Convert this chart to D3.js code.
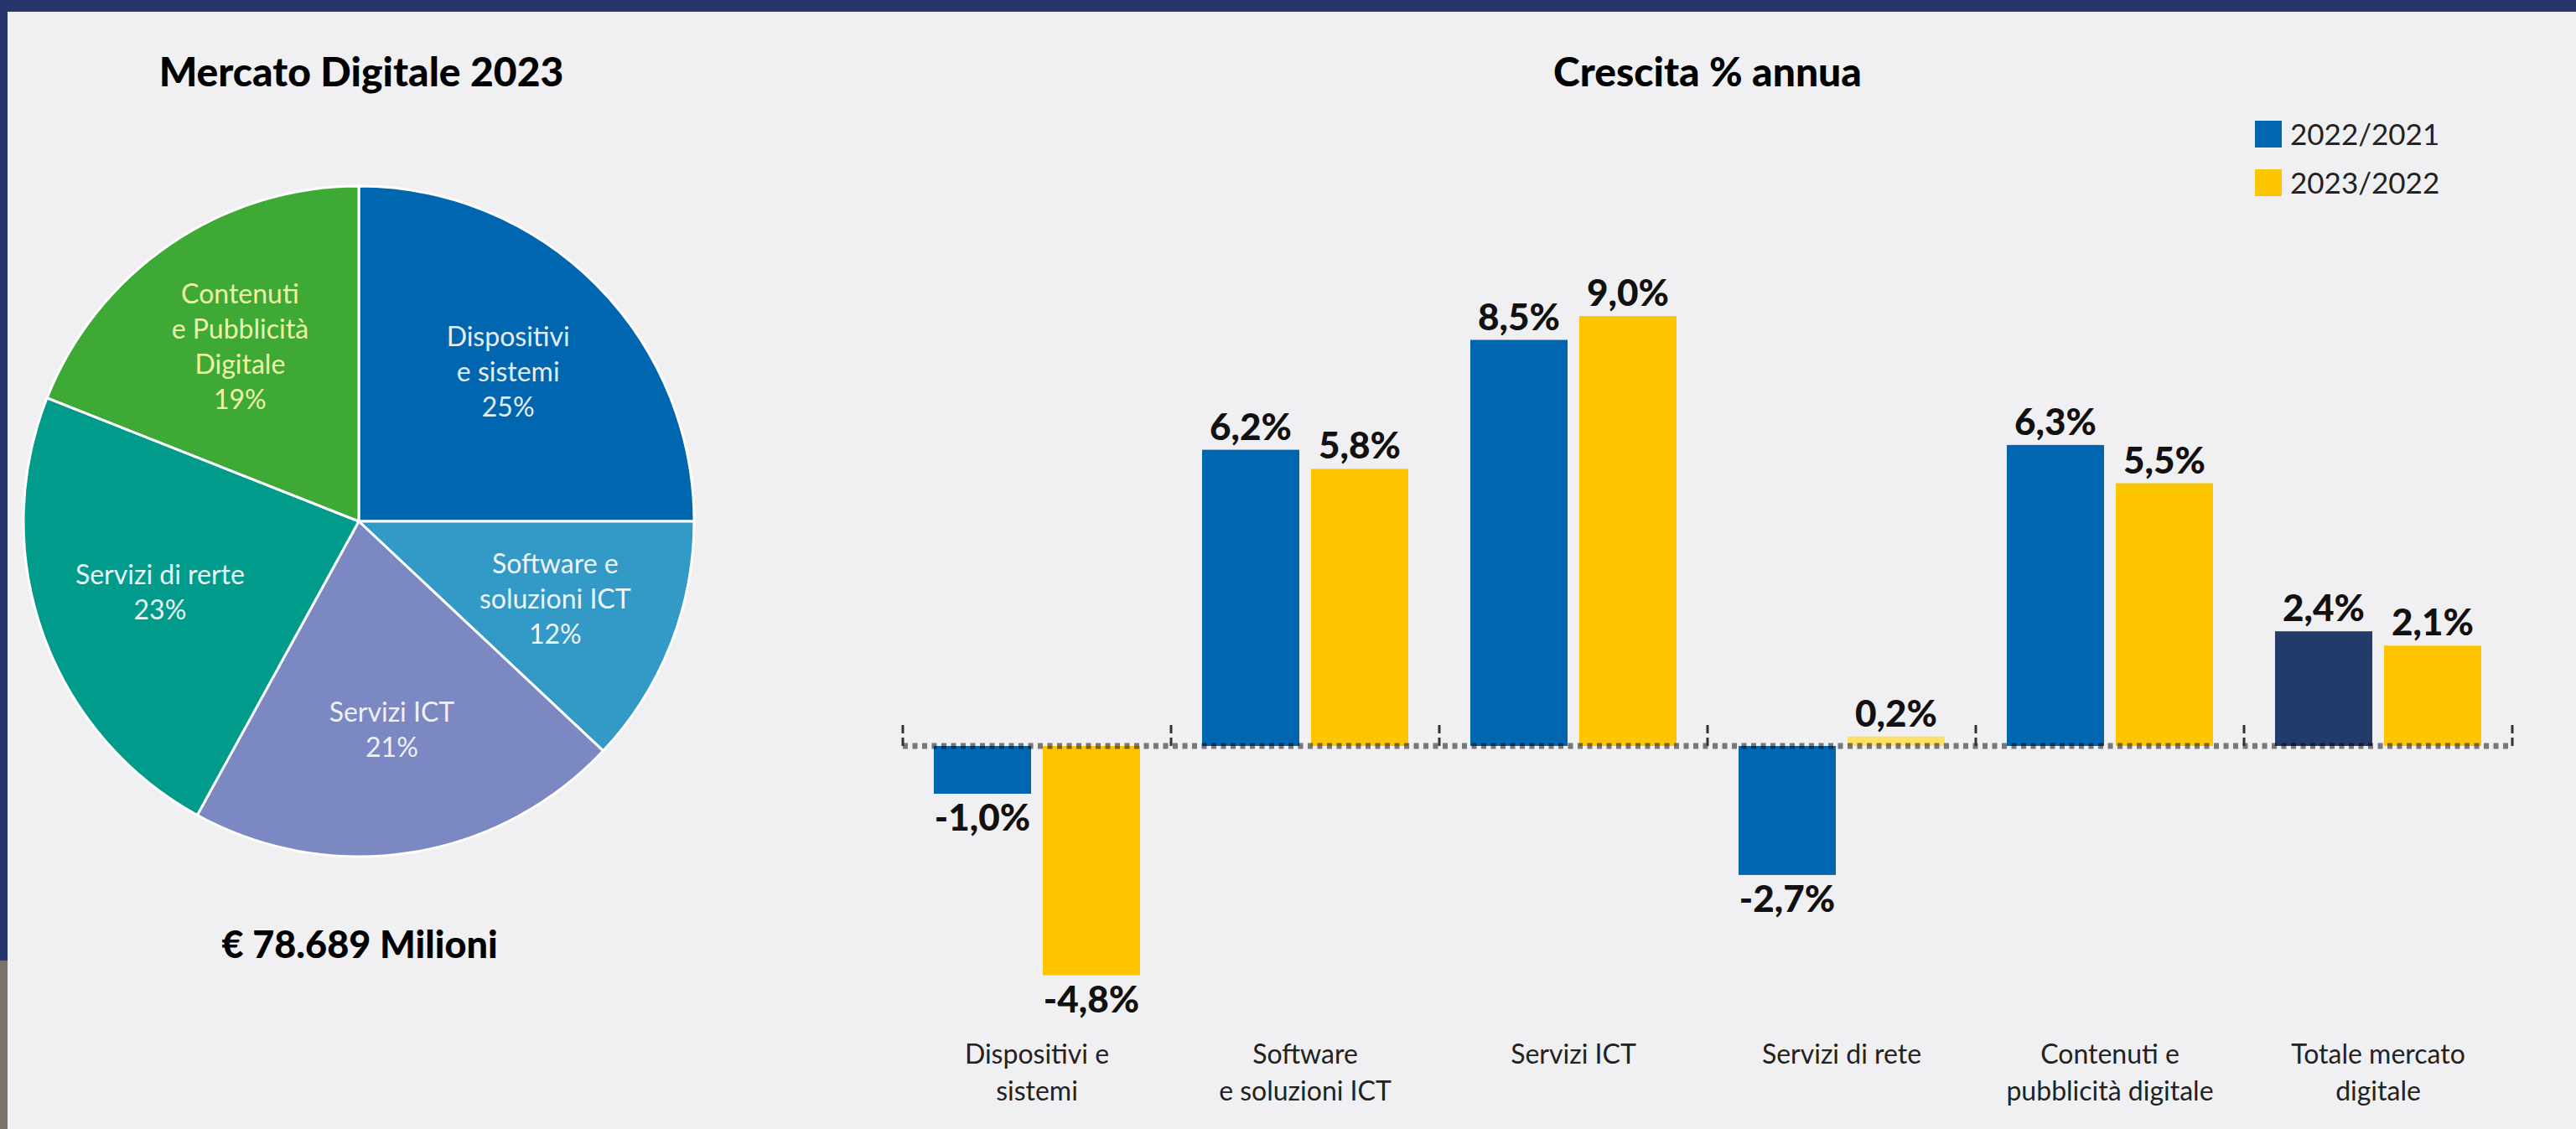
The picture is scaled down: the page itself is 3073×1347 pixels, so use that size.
<!DOCTYPE html>
<html>
<head>
<meta charset="utf-8">
<script src="https://cdn.jsdelivr.net/npm/d3@7"></script>
<style>
  html, body { margin: 0; padding: 0; background: #f0f0f2; }
  text { font-family: Lato, "Open Sans", sans-serif; }
</style>
</head>
<body>
<svg id="chart" width="3073" height="1347"></svg>
<script>
// pie: composition of the market 2023
var pieLabels = [["Dispositivi", "e sistemi"], ["Software e", "soluzioni ICT"], ["Servizi ICT"], ["Servizi di rerte"], ["Contenuti", "e Pubblicità", "Digitale"]];
var pieShares = [25, 12, 21, 23, 19];
var pieColors = ["#0066b0", "#3399c6", "#7b88c2", "#009b8a", "#3ea935"];
var pieTextColors = ["#e4eefa", "#eef6fb", "#eef0f8", "#e9f6f3", "#eef3a8"];
var marketTotal = "€ 78.689 Milioni";

// bars: yearly growth %
var barLabels = [["Dispositivi e", "sistemi"], ["Software", "e soluzioni ICT"], ["Servizi ICT"], ["Servizi di rete"], ["Contenuti e", "pubblicità digitale"], ["Totale mercato", "digitale"]];
var seriesNames = ["2022/2021", "2023/2022"];
var growth2022 = [-1.0, 6.2, 8.5, -2.7, 6.3, 2.4];
var growth2023 = [-4.8, 5.8, 9.0, 0.2, 5.5, 2.1];

var svg = d3.select("#chart");
var W = 3073, H = 1347;

// frame
svg.append("rect").attr("width", W).attr("height", H).attr("fill", "#f0f0f2");
svg.append("rect").attr("width", W).attr("height", 14).attr("fill", "#27356f");
svg.append("rect").attr("width", 9).attr("height", 1146).attr("fill", "#27356f");
svg.append("rect").attr("y", 1146).attr("width", 9).attr("height", H - 1146).attr("fill", "#7a726d");

// titles
svg.append("text").attr("x", 431).attr("y", 103).attr("text-anchor", "middle")
  .style("font-size", "48px").style("font-weight", 900).text("Mercato Digitale 2023");
svg.append("text").attr("x", 2037).attr("y", 103).attr("text-anchor", "middle")
  .style("font-size", "48px").style("font-weight", 900).text("Crescita % annua");
svg.append("text").attr("x", 429).attr("y", 1143).attr("text-anchor", "middle")
  .style("font-size", "45px").style("font-weight", 900).text(marketTotal);

// ---- pie ----
var R = 400;
var gp = svg.append("g").attr("transform", "translate(428,622)");
var pie = d3.pie().sort(null).value(function(d) { return d; });
var arc = d3.arc().innerRadius(0).outerRadius(R);
var labelArc = d3.arc().innerRadius(252).outerRadius(252);
var arcs = pie(pieShares);

gp.selectAll("path").data(arcs).enter().append("path")
  .attr("d", arc)
  .attr("fill", function(d, i) { return pieColors[i]; })
  .attr("stroke", "#ffffff").attr("stroke-width", 3);

var lineH = 42;
gp.selectAll("text.pl").data(arcs).enter().append("text")
  .attr("class", "pl")
  .attr("text-anchor", "middle")
  .style("font-size", "32px").style("font-weight", 400)
  .attr("fill", function(d, i) { return pieTextColors[i]; })
  .each(function(d, i) {
    var c = labelArc.centroid(d);
    var lines = pieLabels[i].concat([d.data + "%"]);
    var y0 = c[1] - (lines.length - 1) * lineH / 2 + 11;
    var t = d3.select(this);
    lines.forEach(function(s, k) {
      t.append("tspan").attr("x", c[0]).attr("y", y0 + k * lineH).text(s);
    });
  });

// ---- bars ----
var x0 = d3.scaleBand().domain(d3.range(barLabels.length)).range([1077, 2997]).paddingInner(0);
var x1 = d3.scaleBand().domain([0, 1]).range([37, 283]).paddingInner(14 / 130);
var y = d3.scaleLinear().domain([0, 1]).range([890, 833]);
var it = d3.formatLocale({decimal: ",", thousands: ".", grouping: [3], currency: ["€", ""], minus: "-"});
var fmt = function(v) { return it.format(".1f")(v) + "%"; };

var rows = [];
barLabels.forEach(function(lab, i) {
  rows.push({c: i, s: 0, v: growth2022[i]});
  rows.push({c: i, s: 1, v: growth2023[i]});
});
function barColor(d) {
  if (d.s === 0) return d.c === barLabels.length - 1 ? "#233b6b" : "#0066b0";
  return Math.abs(d.v) < 0.5 ? "#ffe066" : "#fdc500";
}

var gb = svg.append("g");
gb.selectAll("rect").data(rows).enter().append("rect")
  .attr("x", function(d) { return x0(d.c) + x1(d.s); })
  .attr("width", x1.bandwidth())
  .attr("y", function(d) { return Math.min(y(d.v), y(0)); })
  .attr("height", function(d) { return Math.abs(y(d.v) - y(0)); })
  .attr("fill", barColor);

gb.selectAll("text.val").data(rows).enter().append("text")
  .attr("class", "val")
  .attr("x", function(d) { return x0(d.c) + x1(d.s) + x1.bandwidth() / 2; })
  .attr("y", function(d) { return d.v >= 0 ? y(d.v) - 12 : y(d.v) + 44; })
  .attr("text-anchor", "middle")
  .style("font-size", "44px").style("font-weight", 900).attr("fill", "#111")
  .text(function(d) { return fmt(d.v); });

// zero line + ticks
svg.append("line").attr("x1", 1077).attr("x2", 2997).attr("y1", y(0)).attr("y2", y(0))
  .attr("stroke", "#000").attr("stroke-opacity", 0.5).attr("stroke-width", 7)
  .attr("stroke-dasharray", "6,5.5");
var ticks = x0.domain().map(function(i) { return x0(i); }).concat([x0.range()[1]]);
svg.selectAll("line.tk").data(ticks).enter().append("line")
  .attr("class", "tk")
  .attr("x1", function(d) { return d; }).attr("x2", function(d) { return d; })
  .attr("y1", 865).attr("y2", 892)
  .attr("stroke", "#333").attr("stroke-width", 3).attr("stroke-dasharray", "10,5");

// category labels
svg.selectAll("text.cat").data(barLabels).enter().append("text")
  .attr("class", "cat")
  .attr("text-anchor", "middle")
  .style("font-size", "32px").style("font-weight", 400).attr("fill", "#222")
  .each(function(lines, i) {
    var t = d3.select(this);
    lines.forEach(function(s, k) {
      t.append("tspan").attr("x", x0(i) + x0.bandwidth() / 2).attr("y", 1269 + k * 44).text(s);
    });
  });

// legend
var lg = svg.append("g").attr("transform", "translate(2690,144)");
seriesNames.forEach(function(n, i) {
  lg.append("rect").attr("y", i * 58).attr("width", 32).attr("height", 32)
    .attr("fill", i === 0 ? "#0066b0" : "#fdc500");
  lg.append("text").attr("x", 42).attr("y", i * 58 + 29)
    .style("font-size", "35px").style("font-weight", 400).attr("fill", "#222").text(n);
});
</script>
</body>
</html>
